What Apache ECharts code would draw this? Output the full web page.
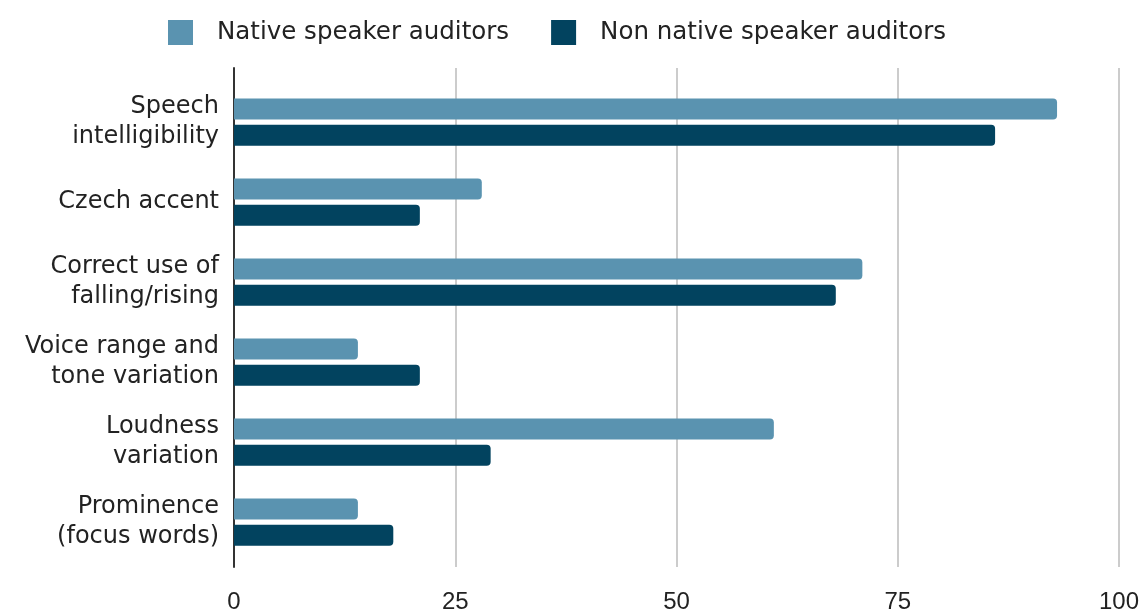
<!DOCTYPE html>
<html>
<head>
<meta charset="utf-8">
<script src="https://cdn.jsdelivr.net/npm/echarts@6/dist/echarts.min.js"></script>
<style>
  html, body { margin: 0; padding: 0; background: #fff; }
  #divChart { width: 1143px; height: 614px; }
</style>
</head>
<body>
<div id="divChart"></div>
<script>
var categories = ['Speech\nintelligibility', 'Czech accent', 'Correct use of\nfalling/rising',
    'Voice range and\ntone variation', 'Loudness\nvariation', 'Prominence\n(focus words)'];
var nativeValues = [93, 28, 71, 14, 61, 14];
var nonNativeValues = [86, 21, 68, 21, 29, 18];
var xTicks = [0, 25, 50, 75, 100];

var myChart = echarts.init(document.getElementById('divChart'));

var textFont = 'DejaVu Sans, sans-serif';
var digitFont = 'Liberation Sans, Arial, sans-serif';

var option = {
    animation: false,
    color: ['#5a93b0', '#02435f'],
    legend: {
        top: 15,
        left: 163,
        itemWidth: 25,
        itemHeight: 25,
        itemGap: 42,
        icon: 'rect',
        textStyle: { fontSize: 24.5, color: '#222', fontFamily: textFont, padding: [0, 0, 0, 19] },
        data: ['Native speaker auditors', 'Non native speaker auditors']
    },
    grid: [
        { left: 234, right: 24, top: 68, bottom: 38 },
        { left: 234, right: 24, top: 82, bottom: 52 }
    ],
    xAxis: [
        {
            gridIndex: 0, type: 'value', min: 0, max: 100, interval: 25,
            axisLine: { show: false }, axisTick: { show: false },
            splitLine: { lineStyle: { color: '#cccccc', width: 2 } },
            axisLabel: {
                fontSize: 24, color: '#222', fontFamily: digitFont, margin: 23,
                formatter: function(v) { return xTicks.indexOf(v) >= 0 ? String(v) : ''; }
            }
        },
        {
            gridIndex: 1, type: 'value', min: 0, max: 100, show: false
        }
    ],
    yAxis: [
        {
            gridIndex: 0, type: 'value', min: 0, max: 1,
            axisLine: { show: true, lineStyle: { color: '#333', width: 2 } },
            axisTick: { show: false }, axisLabel: { show: false },
            splitLine: { show: false }
        },
        {
            gridIndex: 1, type: 'category', inverse: true, data: categories,
            axisLine: { show: false }, axisTick: { show: false },
            axisLabel: {
                fontSize: 24, color: '#222', fontFamily: textFont,
                lineHeight: 30, margin: 15, align: 'right', padding: [8, 0, 0, 0]
            }
        }
    ],
    series: [
        {
            name: 'Native speaker auditors', type: 'bar',
            xAxisIndex: 1, yAxisIndex: 1,
            barWidth: 21, barGap: '25%',
            itemStyle: { borderRadius: [0, 4, 4, 0] },
            data: nativeValues
        },
        {
            name: 'Non native speaker auditors', type: 'bar',
            xAxisIndex: 1, yAxisIndex: 1,
            barWidth: 21, barGap: '25%',
            itemStyle: { borderRadius: [0, 4, 4, 0] },
            data: nonNativeValues
        }
    ]
};

myChart.setOption(option);
</script>
</body>
</html>
